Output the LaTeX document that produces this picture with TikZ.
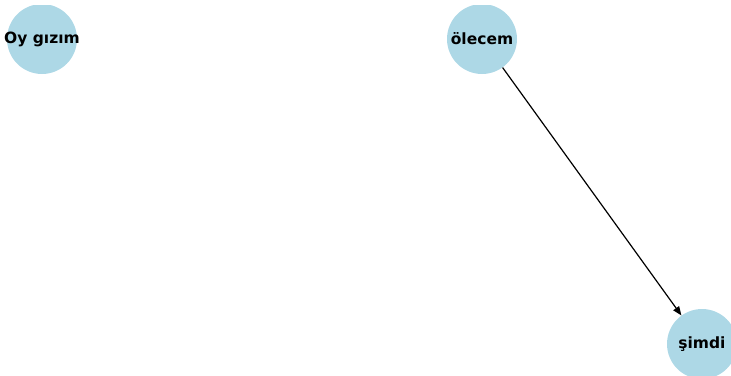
\documentclass[tikz,border=0pt]{standalone}
\usepackage{fontspec}
\setmainfont{DejaVu Sans}
\usetikzlibrary{arrows.meta}
\definecolor{nodeblue}{HTML}{ADD8E6}
\tikzset{
  bubble/.style={circle, fill=nodeblue, draw=none, minimum size=70pt, inner sep=0pt},
  lbl/.style={font=\fontsize{15.5}{18}\selectfont\bfseries, text=black},
  edge/.style={draw=black, line width=1.2pt, -{Triangle[length=9pt,width=7pt]}}
}
\begin{document}
\begin{tikzpicture}[x=1pt,y=1pt]
\useasboundingbox (0,0) rectangle (731,-375);
\clip (0,-5) rectangle (731,-375);
\node[bubble, label={[lbl]center:Oy gızım}] (a) at (42,-39) {};
\node[bubble, label={[lbl]center:ölecem}] (b) at (482,-39) {};
\node[bubble, label={[lbl]center:şimdi}] (c) at (702,-344) {};
\draw[edge] (b) -- (c);
\end{tikzpicture}
\end{document}
